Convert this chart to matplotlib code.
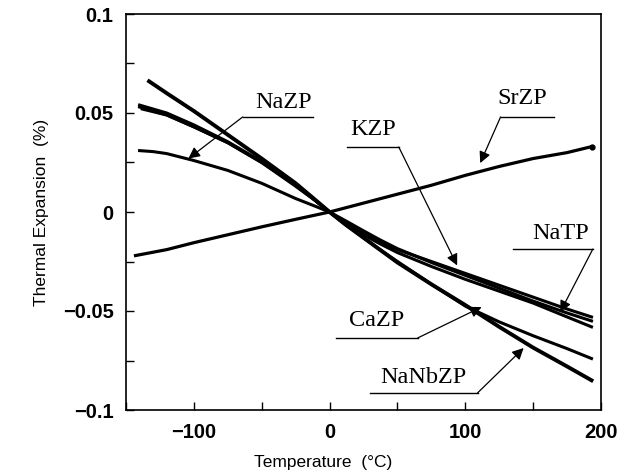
import numpy as np
import matplotlib.pyplot as plt
from matplotlib.ticker import MultipleLocator

# --- data (temperature in degC, expansion in %) ---
nanbzp_x = [-133, -120, -100, -75, -50, -36, -25, -12, 0, 12, 25, 37, 50, 75, 100, 125, 150, 175, 193]
nanbzp_y = [0.066, 0.060, 0.051, 0.039, 0.027, 0.020, 0.0145, 0.007, 0.0, -0.0065, -0.013, -0.019,
            -0.0255, -0.0365, -0.047, -0.058, -0.0685, -0.078, -0.085]

cazp_x = [-140, -120, -100, -75, -50, -25, -12, 0, 12, 25, 37, 50, 75, 100, 125, 150, 175, 193]
cazp_y = [0.053, 0.049, 0.043, 0.035, 0.025, 0.0135, 0.0067, 0.0, -0.0065, -0.013, -0.019, -0.025,
          -0.0365, -0.0475, -0.0555, -0.0625, -0.069, -0.074]

kzp_x = [-140, -120, -100, -75, -50, -25, -12, 0, 12, 25, 37, 50, 75, 100, 125, 150, 175, 193]
kzp_y = [0.054, 0.050, 0.044, 0.0355, 0.0255, 0.0135, 0.0066, 0.0, -0.006, -0.011, -0.015, -0.019,
         -0.025, -0.031, -0.037, -0.043, -0.049, -0.053]

natp_x = [-138, -120, -100, -75, -50, -25, -12, 0, 12, 25, 37, 50, 75, 100, 125, 150, 175, 193]
natp_y = [0.052, 0.049, 0.043, 0.035, 0.025, 0.013, 0.0065, 0.0, -0.006, -0.0115, -0.016, -0.0205,
          -0.0275, -0.034, -0.040, -0.046, -0.053, -0.058]

nazp_x = [-140, -130, -120, -100, -75, -50, -25, -12, 0, 12, 25, 37, 50, 75, 100, 125, 150, 175, 193]
nazp_y = [0.031, 0.0305, 0.0295, 0.026, 0.021, 0.0145, 0.0068, 0.0033, 0.0, -0.0045, -0.0095, -0.014,
          -0.0185, -0.0255, -0.032, -0.0385, -0.045, -0.051, -0.055]

srzp_x = [-143, -120, -100, -75, -50, -25, 0, 25, 50, 75, 100, 125, 150, 175, 193]
srzp_y = [-0.022, -0.019, -0.0155, -0.0115, -0.0075, -0.0037, 0.0, 0.0045, 0.009,
          0.0135, 0.0185, 0.023, 0.027, 0.030, 0.033]

x_ticks = [-100, 0, 100, 200]
x_ticklabels = ["\u2212100", "0", "100", "200"]
y_ticks = [-0.1, -0.05, 0, 0.05, 0.1]
y_ticklabels = ["\u22120.1", "\u22120.05", "0", "0.05", "0.1"]

# label, text centre, underline x-range, underline y, leader start x, arrow tip
labels = [
    ("NaZP", (-34, 0.0555), (-64, -12), 0.048, -64, (-104, 0.027)),
    ("KZP", (32, 0.0415), (13, 51), 0.0328, 51, (94, -0.027)),
    ("SrZP", (142, 0.0575), (126, 165), 0.048, 126, (111, 0.0247)),
    ("NaTP", (170, -0.0110), (135, 194), -0.0187, 194, (170, -0.0505)),
    ("CaZP", (35, -0.0550), (5, 65), -0.0636, 65, (112, -0.048)),
    ("NaNbZP", (69, -0.0835), (30, 109), -0.0914, 109, (143, -0.0687)),
]

fig = plt.figure(figsize=(6.37, 4.76), dpi=100)
ax = fig.add_axes([126 / 637, 66 / 476, 475 / 637, 396 / 476])

ax.plot(nanbzp_x, nanbzp_y, color="black", lw=2.8)
ax.plot(cazp_x, cazp_y, color="black", lw=2.2)
ax.plot(kzp_x, kzp_y, color="black", lw=2.2)
ax.plot(natp_x, natp_y, color="black", lw=2.2)
ax.plot(nazp_x, nazp_y, color="black", lw=2.2)
ax.plot(srzp_x, srzp_y, color="black", lw=2.3)
ax.plot(srzp_x[-1], srzp_y[-1], "o", color="black", ms=3.5)

serif = ["Liberation Serif", "DejaVu Serif"]
sans = ["Liberation Sans", "DejaVu Sans"]
for name, tpos, ux, uy, lx, tip in labels:
    ax.text(tpos[0], tpos[1], name, fontsize=17.5, family=serif,
            ha="center", va="center")
    ax.plot(ux, [uy, uy], color="black", lw=1.0)
    ax.annotate("", xy=tip, xytext=(lx, uy),
                arrowprops=dict(arrowstyle="-|>", color="black", lw=0.9,
                                mutation_scale=17, shrinkA=0, shrinkB=0))

ax.set_xlim(-150, 200)
ax.set_ylim(-0.1, 0.1)
ax.set_xticks(x_ticks)
ax.set_xticklabels(x_ticklabels)
ax.set_yticks(y_ticks)
ax.set_yticklabels(y_ticklabels)
ax.xaxis.set_minor_locator(MultipleLocator(50))
ax.yaxis.set_minor_locator(MultipleLocator(0.025))
ax.tick_params(which="both", direction="in", length=6, width=1.0)
ax.tick_params(which="major", labelsize=14.5, pad=9)
for lab in ax.get_xticklabels() + ax.get_yticklabels():
    lab.set_family(sans)
    lab.set_fontweight("bold")
for sp in ax.spines.values():
    sp.set_linewidth(1.2)

ax.set_ylabel("Thermal Expansion  (%)", fontsize=12.5, family=sans, labelpad=10)
fig.text(323 / 637, 1 - 462 / 476, "Temperature  (\u00b0C)", fontsize=12.5, family=sans,
         ha="center", va="center")

fig.savefig("out.png", dpi=100)
